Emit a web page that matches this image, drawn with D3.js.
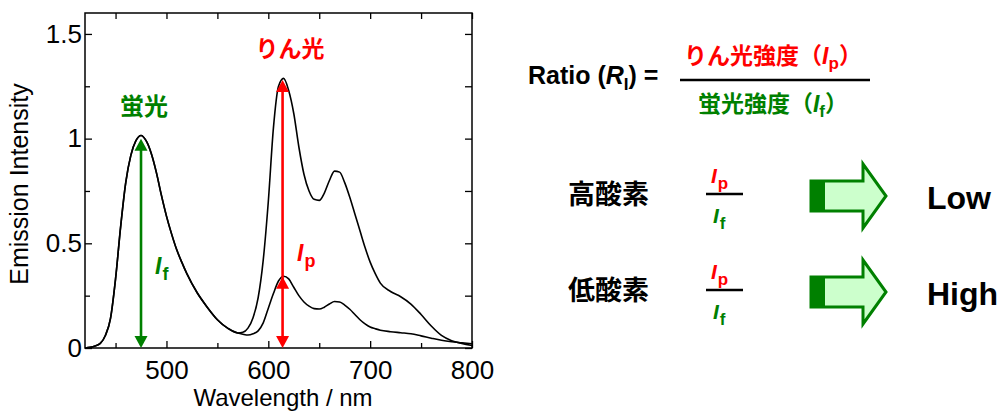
<!DOCTYPE html>
<html>
<head>
<meta charset="utf-8">
<script src="https://cdn.jsdelivr.net/npm/d3@7"></script>
<style>
  body { margin: 0; background: #fff; }
  text { font-family: "Liberation Sans", Arial, sans-serif; }
  .jp { font-family: "Noto Sans CJK JP", sans-serif; font-weight: bold; }
</style>
</head>
<body>
<div id="chart"></div>
<script>
// wavelengths (nm) and the two spectra
var wavelengths = [420,425,430,435,440,445,450,455,460,465,470,475,480,485,490,495,500,505,510,515,520,530,540,550,560,570,
  575,580,585,590,595,600,605,610,615,620,625,630,635,640,645,650,655,660,665,670,675,680,685,690,695,700,705,710,
  720,730,740,750,760,770,780,790,800];

// fluorescence band, same for both (420-570 nm)
var fluor = [0,0.003,0.01,0.022,0.06,0.14,0.33,0.58,0.79,0.92,0.99,1.015,0.99,0.93,0.84,0.73,0.63,0.545,0.47,0.41,0.355,0.265,0.195,0.135,0.095,0.072];

// phosphorescence part (575-800 nm), low oxygen = tall, high oxygen = small
var phosLowO2 = [0.075,0.095,0.145,0.24,0.42,0.70,1.05,1.25,1.288,1.23,1.12,0.96,0.83,0.75,0.71,0.705,0.74,0.80,0.845,0.84,0.79,0.72,0.64,0.56,0.48,0.41,0.355,0.31,
  0.27,0.245,0.21,0.16,0.105,0.06,0.035,0.022,0.012];
var phosHighO2 = [0.066,0.062,0.068,0.082,0.12,0.19,0.26,0.32,0.343,0.33,0.29,0.25,0.22,0.20,0.188,0.186,0.195,0.21,0.222,0.22,0.205,0.185,0.16,0.135,0.115,0.10,0.092,0.085,
  0.078,0.073,0.068,0.058,0.047,0.037,0.03,0.025,0.02];

var xTicks = [500, 600, 700, 800];
var xMinor = [450, 550, 650, 750];
var yTicks = [0, 0.5, 1, 1.5];
var yMinor = [0.25, 0.75, 1.25];

// arrows: fluorescence peak, phosphorescence peaks
var ifArrow = {wl: 475, top: 1.0};
var ipArrow = {wl: 614, tops: [1.28, 0.34]};

var green = "#008000", red = "#ff0000";

var W = 1006, H = 414;
var margin = {top: 13, left: 85},
    w = 387, h = 335;

var svg = d3.select("#chart").append("svg")
  .attr("width", W).attr("height", H);

var g = svg.append("g").attr("transform", "translate(" + margin.left + "," + margin.top + ")");

var x = d3.scaleLinear().domain([420, 800]).range([0, w]);
var y = d3.scaleLinear().domain([0, 1.6]).range([h, 0]);

// axes, ticks pointing in
function styleAxis(sel) {
  sel.select(".domain").remove();
  sel.selectAll("line").attr("stroke", "#000").attr("stroke-width", 1.3);
  sel.selectAll("text").style("font-size", "26px").attr("fill", "#000");
}
g.append("g").attr("transform", "translate(0," + h + ")")
  .call(d3.axisBottom(x).tickValues(xTicks).tickSize(-7).tickPadding(13).tickSizeOuter(0))
  .call(styleAxis);
g.append("g").attr("transform", "translate(0," + h + ")")
  .call(d3.axisBottom(x).tickValues(xMinor).tickSize(-5).tickFormat("").tickSizeOuter(0))
  .call(styleAxis);
g.append("g")
  .call(d3.axisTop(x).tickValues(xTicks.concat(xMinor)).tickSize(-6).tickFormat("").tickSizeOuter(0))
  .call(styleAxis);
g.append("g")
  .call(d3.axisLeft(y).tickValues(yTicks).tickSize(-7).tickPadding(3).tickFormat(function(d) { return d; }).tickSizeOuter(0))
  .call(styleAxis);
g.append("g")
  .call(d3.axisLeft(y).tickValues(yMinor).tickSize(-5).tickFormat("").tickSizeOuter(0))
  .call(styleAxis);
g.append("g").attr("transform", "translate(" + w + ",0)")
  .call(d3.axisRight(y).tickValues(yTicks.concat(yMinor)).tickSize(-7).tickFormat("").tickSizeOuter(0))
  .call(styleAxis);

g.append("rect")
  .attr("width", w).attr("height", h)
  .attr("fill", "none").attr("stroke", "#000").attr("stroke-width", 1.5);

// spectra
var line = d3.line()
  .x(function(d) { return x(d[0]); })
  .y(function(d) { return y(d[1]); })
  .curve(d3.curveMonotoneX);

[fluor.concat(phosLowO2), fluor.concat(phosHighO2)].forEach(function(vals) {
  g.append("path")
    .datum(wavelengths.map(function(wl, i) { return [wl, vals[i]]; }))
    .attr("fill", "none")
    .attr("stroke", "#000")
    .attr("stroke-width", 1.6)
    .attr("d", line);
});

// arrow heads
function head(cx, tipY, dir, color) {
  var hw = 6.5, hl = 12;
  g.append("path")
    .attr("d", "M" + cx + "," + tipY + "L" + (cx - hw) + "," + (tipY + dir * hl) + "L" + (cx + hw) + "," + (tipY + dir * hl) + "Z")
    .attr("fill", color);
}
function vArrow(wl, tops, color) {
  var cx = x(wl);
  g.append("line")
    .attr("x1", cx).attr("x2", cx)
    .attr("y1", y(d3.max(tops)) + 4).attr("y2", y(0) - 4)
    .attr("stroke", color).attr("stroke-width", 2.6);
  tops.forEach(function(t) { head(cx, y(t), 1, color); });
  head(cx, y(0), -1, color);
}
vArrow(ifArrow.wl, [ifArrow.top], green);
vArrow(ipArrow.wl, ipArrow.tops, red);

// in-plot labels
svg.append("text").attr("class", "jp").attr("x", 144).attr("y", 115)
  .attr("text-anchor", "middle").attr("fill", green).style("font-size", "24px").text("蛍光");
svg.append("text").attr("class", "jp").attr("x", 290).attr("y", 57)
  .attr("text-anchor", "middle").attr("fill", red).style("font-size", "23px").text("りん光");

function sym(parent, xp, yp, letter, color, size, subSize) {
  var t = parent.append("text").attr("x", xp).attr("y", yp).attr("fill", color)
    .style("font-weight", "bold").style("font-size", size + "px");
  t.append("tspan").style("font-style", "italic").text("I");
  t.append("tspan").attr("dx", 1).attr("dy", 6).style("font-size", subSize + "px").text(letter);
  return t;
}
sym(svg, 155, 274, "f", green, 23, 18);
sym(svg, 297, 261, "p", red, 23, 18);

// axis titles
svg.append("text").attr("x", 283).attr("y", 406).attr("text-anchor", "middle")
  .style("font-size", "24px").text("Wavelength / nm");
svg.append("text").attr("transform", "translate(28,184) rotate(-90)").attr("text-anchor", "middle")
  .style("font-size", "25px").text("Emission Intensity");

// ratio definition
var ratio = svg.append("text").attr("x", 528).attr("y", 84)
  .style("font-weight", "bold").style("font-size", "25px");
ratio.append("tspan").text("Ratio (");
ratio.append("tspan").style("font-style", "italic").text("R");
ratio.append("tspan").attr("dy", 6).style("font-size", "17px").text("I");
ratio.append("tspan").attr("dy", -6).text(") =");

svg.append("line").attr("x1", 680).attr("x2", 870).attr("y1", 80).attr("y2", 80)
  .attr("stroke", "#000").attr("stroke-width", 2.5);

function fracText(yp, label, letter, color) {
  var t = svg.append("text").attr("x", 773).attr("y", yp).attr("text-anchor", "middle")
    .attr("fill", color).attr("class", "jp").style("font-size", "23px");
  t.append("tspan").text(label + "（");
  t.append("tspan").style("font-family", "Liberation Sans, Arial").style("font-style", "italic").text("I");
  t.append("tspan").attr("dy", 5).style("font-family", "Liberation Sans, Arial").style("font-size", "17px").text(letter);
  t.append("tspan").attr("dy", -5).text("）");
}
fracText(64, "りん光強度", "p", red);
fracText(112, "蛍光強度", "f", green);

// oxygen rows
var rows = [
  {label: "高酸素", result: "Low", cy: 196},
  {label: "低酸素", result: "High", cy: 292}
];
rows.forEach(function(r) {
  svg.append("text").attr("class", "jp").attr("x", 568).attr("y", r.cy + 8)
    .style("font-size", "27px").text(r.label);

  svg.append("line").attr("x1", 706).attr("x2", 743).attr("y1", r.cy - 2).attr("y2", r.cy - 2)
    .attr("stroke", "#000").attr("stroke-width", 2.5);
  sym(svg, 711, r.cy - 13, "p", red, 21, 17);
  sym(svg, 713, r.cy + 27, "f", green, 21, 17);

  // block arrow
  var pts = [[811, r.cy - 15], [863, r.cy - 15], [863, r.cy - 32], [886, r.cy], [863, r.cy + 32], [863, r.cy + 15], [811, r.cy + 15]];
  svg.append("polygon").attr("points", pts.map(function(p) { return p.join(","); }).join(" "))
    .attr("fill", "#ccffcc").attr("stroke", green).attr("stroke-width", 3);
  svg.append("rect").attr("x", 811).attr("y", r.cy - 15).attr("width", 14).attr("height", 30).attr("fill", green);

  svg.append("text").attr("x", 927).attr("y", r.cy + 13)
    .style("font-weight", "bold").style("font-size", "32px").text(r.result);
});
</script>
</body>
</html>
